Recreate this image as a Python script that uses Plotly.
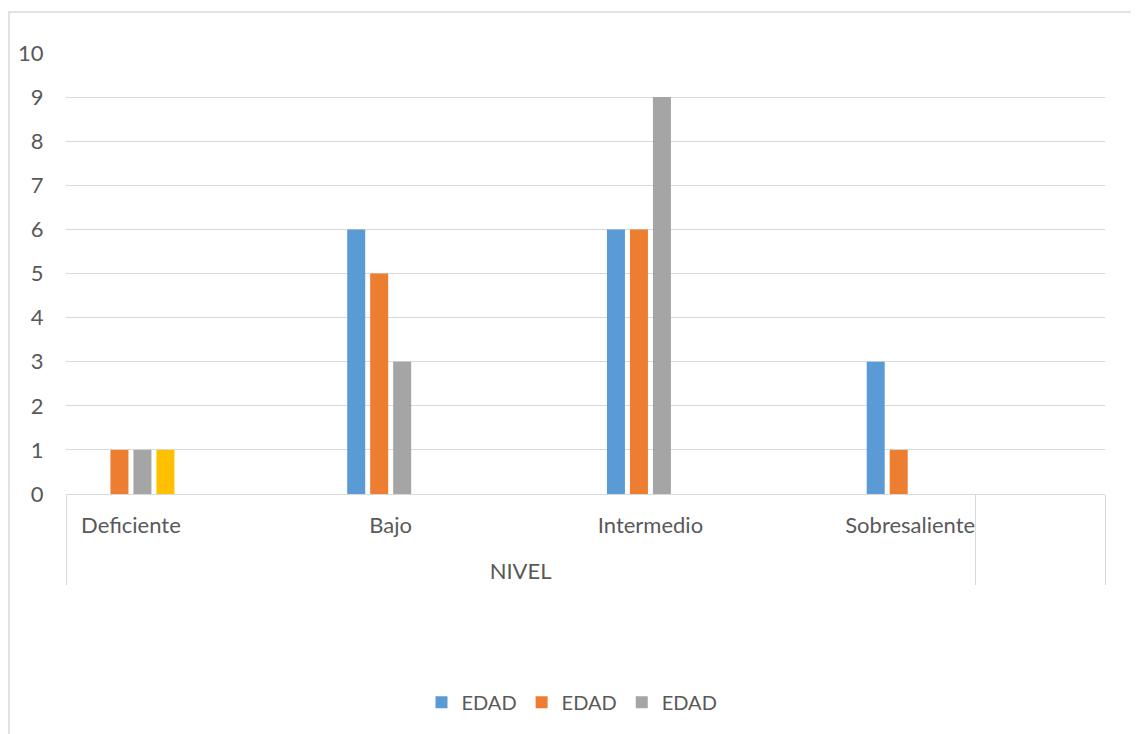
import plotly.graph_objects as go

# ---- data ----
niveles = ["Deficiente", "Bajo", "Intermedio", "Sobresaliente"]
grupo = "NIVEL"
serie_azul = [0, 6, 6, 3]
serie_naranja = [1, 5, 6, 1]
serie_gris = [1, 3, 9, 0]
serie_amarilla = [1, 0, 0, 0]
nombres = ["EDAD", "EDAD", "EDAD", "EDAD"]
y_ticks = list(range(0, 11))

colores = ["#5B9BD5", "#ED7D31", "#A5A5A5", "#FFC000"]
TEXT = "#595959"
GRID = "#D9D9D9"
FONT = "Lato"

# Build the category axis as Excel shows it: each level followed by a blank slot,
# all under the outer "NIVEL" group, plus a trailing blank group.
outer, inner = [], []
for i, n in enumerate(niveles):
    lab = n + "<br> "
    outer += [grupo, grupo] if i < len(niveles) - 1 else [grupo]
    inner += [lab, " " * (i + 1)] if i < len(niveles) - 1 else [lab]
outer.append(" ")
inner.append(" " * 10)


def expand(vals):
    out = []
    for lab in inner:
        name = lab.replace("<br> ", "")
        if name in niveles:
            v = vals[niveles.index(name)]
            out.append(v if v != 0 else None)
        else:
            out.append(None)
    return out


fig = go.Figure()
series = [serie_azul, serie_naranja, serie_gris, serie_amarilla]
for k, (vals, col, name) in enumerate(zip(series, colores, nombres)):
    fig.add_trace(go.Bar(
        x=[outer, inner], y=expand(vals), name=name,
        marker=dict(color=col, line=dict(width=0)),
        showlegend=(k < 3),
    ))

# page body adds an 8px offset, so the figure is sized to the remaining area
fig.update_layout(
    width=1131, height=726,
    margin=dict(l=58, r=34, t=45, b=240, autoexpand=False),
    paper_bgcolor="white", plot_bgcolor="white",
    font=dict(family=FONT, size=22, color=TEXT),
    barmode="group", bargap=0.292, bargroupgap=0.217,
    legend=dict(orientation="h", x=0.487, xanchor="center", y=-0.472, yanchor="middle",
                font=dict(size=20, color=TEXT), itemwidth=30, traceorder="normal"),
    xaxis=dict(type="multicategory", showline=True, linecolor=GRID, linewidth=1,
               showgrid=False, ticks="", showdividers=True, dividercolor=GRID,
               dividerwidth=1, tickangle=0, automargin=False, ticklabelstandoff=12,
               tickfont=dict(size=22, color=TEXT)),
    yaxis=dict(range=[0, 10], tickvals=y_ticks, showgrid=True, gridcolor=GRID, gridwidth=1,
               zeroline=False, showline=False, ticks="outside", ticklen=17,
               tickcolor="rgba(0,0,0,0)", automargin=False,
               tickfont=dict(size=22, color=TEXT)),
    shapes=[dict(type="rect", xref="paper", yref="paper",
                 x0=-0.0549, x1=1.05, y0=-0.6, y1=1.093,
                 line=dict(color=GRID, width=1.5), fillcolor="rgba(0,0,0,0)", layer="below")],
)

fig.write_html("out.html")
